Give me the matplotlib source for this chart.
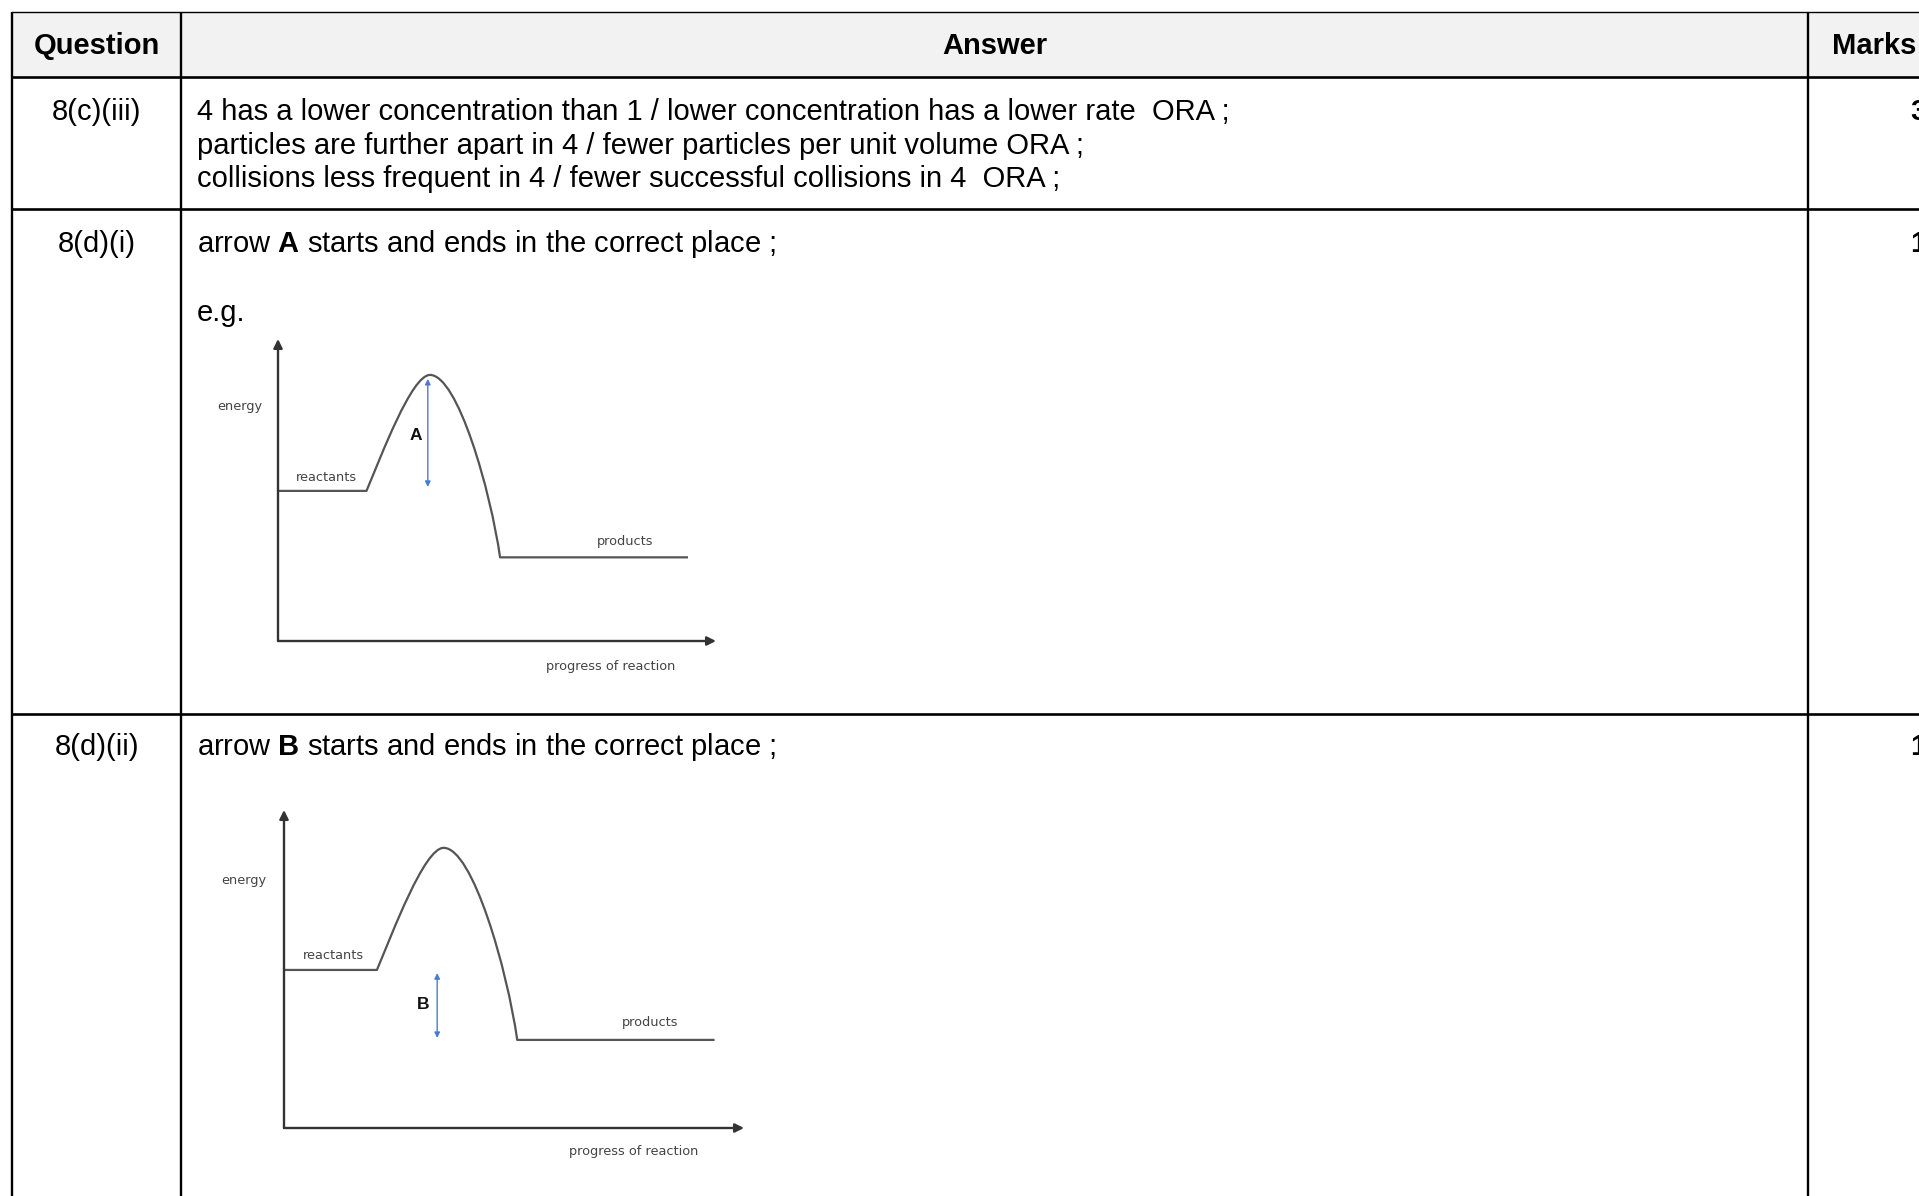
import matplotlib
matplotlib.use("Agg")
import matplotlib.pyplot as plt
from matplotlib.path import Path
from matplotlib.patches import PathPatch

plt.rcParams['font.family'] = ['Liberation Sans', 'DejaVu Sans']
plt.rcParams['mathtext.fontset'] = 'custom'
plt.rcParams['mathtext.rm'] = 'Liberation Sans'
plt.rcParams['mathtext.bf'] = 'Liberation Sans:bold'

# ---------------- data ----------------
headers = ["Question", "Answer", "Marks"]
questions = ["8(c)(iii)", "8(d)(i)", "8(d)(ii)"]
marks = ["3", "1", "1"]
answer_c = [
    "4 has a lower concentration than 1 / lower concentration has a lower rate  ORA ;",
    "particles are further apart in 4 / fewer particles per unit volume ORA ;",
    "collisions less frequent in 4 / fewer successful collisions in 4  ORA ;",
]
answer_d1 = r"arrow $\mathbf{A}$ starts and ends in the correct place ;"
answer_d1_eg = "e.g."
answer_d2 = r"arrow $\mathbf{B}$ starts and ends in the correct place ;"

# energy profile (progress %, energy %): level points and Bezier control points
reactant_level = [(0.0, 49.7), (20.2, 49.7)]
hump_rise = [(23.6, 61.4), (30.5, 88.1), (34.7, 88.1)]     # ctrl, ctrl, peak
hump_fall = [(41.0, 88.1), (48.5, 50.0), (50.7, 27.7)]     # ctrl, ctrl, end
product_level = [(93.6, 27.7)]
diagram_labels = ["energy", "reactants", "products", "progress of reaction"]
arrow_A = (34.2, 86.8, 51.0)   # x, y_top, y_bottom
arrow_B = (33.3, 48.7, 28.3)

# ---------------- layout (pixels) ----------------
W, H = 1919, 1196
col_x = [12, 181, 1808, 1990]
row_y = [12, 77, 209, 714, 1230]

fig = plt.figure(figsize=(W / 100, H / 100), dpi=100)
ax = fig.add_axes([0, 0, 1, 1])
ax.set_xlim(0, W)
ax.set_ylim(H, 0)
ax.axis('off')

# header fill
ax.fill_between([col_x[0], col_x[-1]], row_y[0], row_y[1], color='#F2F2F2', lw=0)

# table lines
ax.plot([col_x[0], col_x[-1]], [row_y[0], row_y[0]], color='black', lw=1.0)
for y in row_y[1:4]:
    ax.plot([col_x[0], col_x[-1]], [y, y], color='black', lw=1.9,
            solid_capstyle='butt')
for x in col_x[:3]:
    ax.plot([x, x], [row_y[0], row_y[-1]], color='black', lw=1.7,
            solid_capstyle='butt')

fs = 21
# header texts
ax.text((col_x[0] + col_x[1]) / 2, 54, headers[0], ha='center', va='baseline',
        fontsize=fs, fontweight='bold')
ax.text((col_x[1] + col_x[2]) / 2, 54, headers[1], ha='center', va='baseline',
        fontsize=fs, fontweight='bold')
ax.text(1832, 54, headers[2], ha='left', va='baseline',
        fontsize=fs, fontweight='bold')

baselines = [120, 252, 755]
for q, m, b in zip(questions, marks, baselines):
    ax.text((col_x[0] + col_x[1]) / 2, b, q, ha='center', va='baseline', fontsize=fs)
    ax.text(1910, b, m, ha='left', va='baseline', fontsize=fs, fontweight='bold')

tx = 197
for i, line in enumerate(answer_c):
    ax.text(tx, 120 + i * 33.5, line, ha='left', va='baseline', fontsize=fs)
ax.text(tx, 252, answer_d1, ha='left', va='baseline', fontsize=fs)
ax.text(tx, 321, answer_d1_eg, ha='left', va='baseline', fontsize=fs)
ax.text(tx, 755, answer_d2, ha='left', va='baseline', fontsize=fs)


def diagram(left, bottom, width, height, arrow, letter, letter_xy, label_pos):
    dax = fig.add_axes([left / W, (H - bottom) / H, width / W, height / H])
    dax.set_xlim(0, 100)
    dax.set_ylim(0, 100)
    dax.axis('off')
    axis_col = '#333333'
    for end in [(100, 0), (0, 100)]:
        dax.annotate('', xy=end, xytext=(0, 0),
                     arrowprops=dict(arrowstyle='-|>', color=axis_col, lw=1.7,
                                     mutation_scale=13, shrinkA=0, shrinkB=0),
                     annotation_clip=False)
    verts = reactant_level + hump_rise + hump_fall + product_level
    codes = ([Path.MOVETO, Path.LINETO] + [Path.CURVE4] * 3 + [Path.CURVE4] * 3
             + [Path.LINETO])
    dax.add_patch(PathPatch(Path(verts, codes), facecolor='none',
                            edgecolor='#555555', lw=1.6, clip_on=False,
                            joinstyle='round'))
    x, y1, y2 = arrow
    dax.annotate('', xy=(x, y1), xytext=(x, y2),
                 arrowprops=dict(arrowstyle='<|-|>', color='#4a7bd0', lw=1.0,
                                 mutation_scale=8, shrinkA=0, shrinkB=0),
                 annotation_clip=False)
    dax.text(letter_xy[0], letter_xy[1], letter, ha='center', va='center',
             fontsize=12.5, fontweight='bold', color='#111111')
    for lab, (lx, ly) in zip(diagram_labels, label_pos):
        dax.text(lx, ly, lab, ha='center', va='center', fontsize=9.3,
                 color='#444444', family='DejaVu Sans', clip_on=False)
    return dax


diagram(278, 641, 438, 302, arrow_A, 'A', (31.5, 67.9),
        [(-8.7, 77.8), (11.0, 54.3), (79.2, 33.1), (76.0, -8.3)])
diagram(284, 1128, 460, 318, arrow_B, 'B', (30.2, 38.7),
        [(-8.7, 77.7), (10.7, 54.4), (79.6, 33.3), (76.1, -7.5)])

fig.savefig('out.png', dpi=100)
